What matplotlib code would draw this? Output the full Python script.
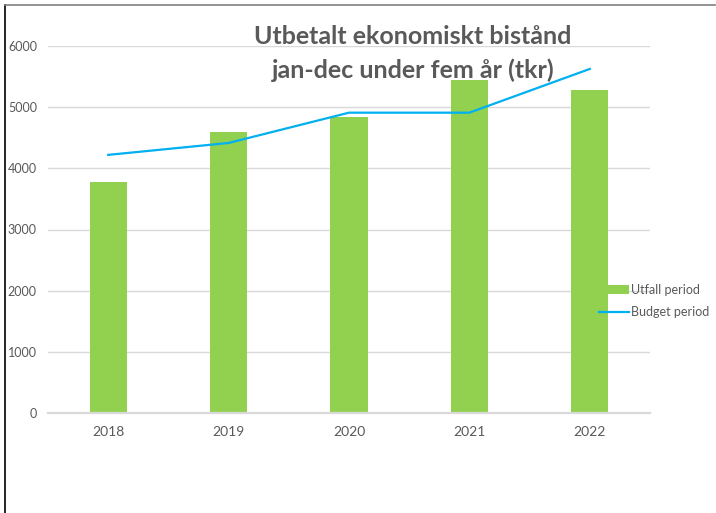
import matplotlib
matplotlib.use("Agg")
import matplotlib.pyplot as plt
from matplotlib.lines import Line2D

years = ["2018", "2019", "2020", "2021", "2022"]
utfall = [3780, 4600, 4840, 5440, 5280]
budget = [4220, 4415, 4910, 4910, 5625]

GREEN, BLUE, TXT, GRID = "#92d050", "#00b0f0", "#595959", "#d9d9d9"
plt.rcParams["font.family"] = ["Lato", "DejaVu Sans"]

fig = plt.figure(figsize=(7.16, 5.13), dpi=100)
ax = fig.add_axes([48 / 716, 1 - 413 / 513, 602 / 716, 367 / 513])

x = list(range(len(years)))
bars = ax.bar(x, utfall, width=0.31, color=GREEN, label="Utfall period", zorder=2)
line, = ax.plot(x, budget, color=BLUE, lw=1.6, label="Budget period", zorder=3)

ax.set_xlim(-0.5, len(years) - 0.5)
ax.set_ylim(0, 6000)
ax.set_yticks(range(0, 6001, 1000))
ax.set_xticks(x)
ax.set_xticklabels(years)
ax.grid(axis="y", color=GRID, lw=1, zorder=0)
for s in ("top", "right", "left"):
    ax.spines[s].set_visible(False)
ax.spines["bottom"].set_color(GRID)
ax.spines["bottom"].set_linewidth(1.6)
ax.tick_params(axis="both", length=0, colors=TXT, labelsize=9)
ax.tick_params(axis="y", pad=8)
ax.tick_params(axis="x", pad=9, labelsize=10)

ax.legend(handles=[bars, line], loc="center left",
          bbox_to_anchor=(0.915, 0.305), frameon=False, borderpad=0,
          borderaxespad=0, fontsize=9, labelcolor=TXT, handlelength=2.4,
          handletextpad=0.15, labelspacing=0.85)

fig.text(413 / 716, 1 - 36 / 513, "Utbetalt ekonomiskt bistånd", ha="center",
         va="center", fontsize=18, fontweight="bold", color=TXT)
fig.text(413 / 716, 1 - 70 / 513, "jan-dec under fem år (tkr)", ha="center",
         va="center", fontsize=18, fontweight="bold", color=TXT)

# outer frame
fig.add_artist(Line2D([5 / 716, 5 / 716], [0, 1 - 5 / 513], color="black",
                      lw=1.2, transform=fig.transFigure))
fig.add_artist(Line2D([5 / 716, 715 / 716], [1 - 5 / 513, 1 - 5 / 513],
                      color="#808080", lw=1.2, transform=fig.transFigure))

fig.savefig("out.png")
